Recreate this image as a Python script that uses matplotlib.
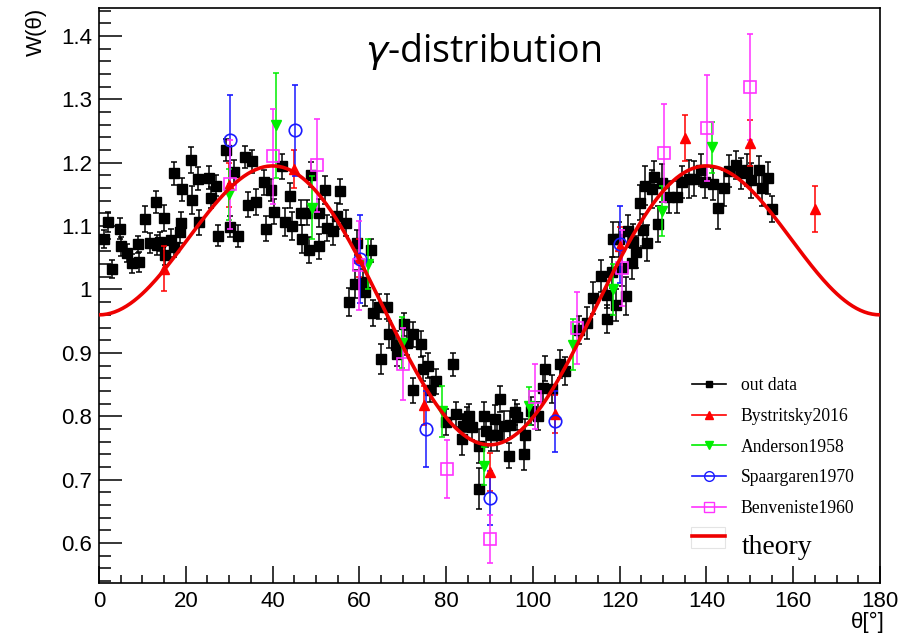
import numpy as np
import matplotlib
matplotlib.use('Agg')
import matplotlib.pyplot as plt
from matplotlib.lines import Line2D
from matplotlib.patches import Rectangle
from matplotlib.ticker import MultipleLocator, FuncFormatter

# "out data" points (theta in degrees, W, error)
theta_out = [
    1.2, 2.1, 3.1, 4.8, 5.0, 6.5, 7.5, 8.9, 9.2, 10.6,
    11.8, 13.2, 13.4, 14.0, 14.9, 15.1, 16.7, 17.2, 17.4, 18.6,
    18.9, 19.2, 21.2, 21.4, 22.9, 23.0, 25.4, 25.7, 26.9, 27.5,
    29.3, 30.1, 31.2, 32.0, 33.6, 34.4, 35.3, 36.1, 38.0, 38.6,
    39.6, 40.3, 42.1, 42.9, 44.1, 44.4, 46.6, 46.8, 47.9, 48.5,
    48.8, 50.6, 50.8, 52.1, 52.5, 54.0, 54.9, 55.5, 56.9, 57.7,
    59.1, 59.4, 60.9, 61.2, 62.8, 63.2, 64.6, 65.1, 66.4, 66.9,
    68.4, 68.7, 70.3, 70.9, 72.3, 72.4, 74.1, 74.6, 75.8, 76.3,
    77.7, 80.0, 81.7, 82.3, 83.7, 83.8, 84.7, 85.2, 86.0, 87.5,
    87.5, 88.7, 89.2, 90.3, 91.2, 91.8, 92.4, 93.3, 94.6, 94.7,
    95.9, 96.4, 97.9, 98.1, 99.5, 101.2, 102.4, 102.9, 104.4, 106.2,
    107.5, 110.6, 112.5, 113.8, 115.8, 117.0, 117.1, 118.2, 118.5, 119.2,
    119.8, 120.5, 121.5, 121.9, 122.8, 123.1, 123.8, 124.7, 125.3, 125.9,
    126.4, 127.4, 127.8, 128.8, 129.8, 131.4, 133.3, 134.4, 136.0, 137.1,
    138.8, 139.7, 141.4, 142.7, 144.0, 145.3, 146.8, 147.9, 149.3, 150.3,
    152.0, 152.8, 154.3, 155.1,
]
w_out = [
    1.080, 1.106, 1.032, 1.096, 1.068, 1.058, 1.041, 1.071, 1.043, 1.111,
    1.073, 1.138, 1.070, 1.075, 1.113, 1.055, 1.078, 1.183, 1.067, 1.090,
    1.105, 1.158, 1.204, 1.141, 1.175, 1.106, 1.176, 1.145, 1.164, 1.085,
    1.220, 1.099, 1.185, 1.084, 1.209, 1.134, 1.202, 1.138, 1.169, 1.096,
    1.157, 1.123, 1.194, 1.106, 1.148, 1.100, 1.121, 1.079, 1.121, 1.062,
    1.181, 1.068, 1.121, 1.157, 1.097, 1.092, 1.116, 1.155, 1.105, 0.980,
    1.009, 1.074, 1.012, 0.996, 1.062, 0.963, 0.973, 0.890, 0.973, 0.929,
    0.912, 0.899, 0.945, 0.916, 0.929, 0.841, 0.914, 0.875, 0.880, 0.842,
    0.855, 0.791, 0.882, 0.803, 0.764, 0.784, 0.795, 0.800, 0.783, 0.753,
    0.686, 0.800, 0.777, 0.771, 0.796, 0.771, 0.827, 0.784, 0.738, 0.787,
    0.806, 0.799, 0.741, 0.770, 0.808, 0.801, 0.845, 0.875, 0.843, 0.882,
    0.871, 0.936, 0.947, 0.987, 1.021, 0.992, 0.953, 1.027, 1.079, 0.975,
    1.079, 1.034, 0.989, 1.092, 1.041, 1.075, 1.059, 1.137, 1.094, 1.164,
    1.073, 1.159, 1.178, 1.103, 1.168, 1.146, 1.146, 1.169, 1.175, 1.175,
    1.189, 1.169, 1.166, 1.129, 1.160, 1.187, 1.196, 1.183, 1.188, 1.172,
    1.188, 1.160, 1.176, 1.127,
]
err_out = [
    0.014, 0.016, 0.014, 0.016, 0.015, 0.014, 0.015, 0.014, 0.016, 0.020,
    0.016, 0.018, 0.016, 0.015, 0.020, 0.016, 0.017, 0.018, 0.016, 0.017,
    0.018, 0.018, 0.020, 0.022, 0.018, 0.020, 0.018, 0.017, 0.017, 0.017,
    0.018, 0.017, 0.020, 0.017, 0.018, 0.020, 0.018, 0.020, 0.020, 0.020,
    0.017, 0.020, 0.020, 0.022, 0.020, 0.022, 0.020, 0.022, 0.020, 0.020,
    0.020, 0.020, 0.022, 0.022, 0.020, 0.022, 0.020, 0.020, 0.020, 0.022,
    0.022, 0.020, 0.020, 0.022, 0.018, 0.020, 0.020, 0.024, 0.020, 0.022,
    0.022, 0.020, 0.018, 0.020, 0.020, 0.020, 0.020, 0.020, 0.020, 0.020,
    0.020, 0.020, 0.018, 0.020, 0.025, 0.020, 0.020, 0.020, 0.020, 0.027,
    0.033, 0.022, 0.025, 0.025, 0.022, 0.025, 0.020, 0.025, 0.020, 0.022,
    0.020, 0.020, 0.025, 0.025, 0.022, 0.022, 0.022, 0.020, 0.022, 0.022,
    0.022, 0.022, 0.025, 0.025, 0.025, 0.022, 0.022, 0.025, 0.028, 0.025,
    0.028, 0.028, 0.030, 0.025, 0.025, 0.028, 0.025, 0.028, 0.025, 0.030,
    0.028, 0.030, 0.025, 0.028, 0.030, 0.025, 0.025, 0.025, 0.030, 0.028,
    0.025, 0.025, 0.025, 0.034, 0.028, 0.025, 0.022, 0.025, 0.025, 0.028,
    0.022, 0.028, 0.025, 0.020,
]

# Bystritsky2016
theta_bys = [15, 30, 45, 60, 75, 90, 105, 120, 135, 150, 165]
w_bys = [1.033, 1.165, 1.190, 1.050, 0.817, 0.712, 0.803, 1.068, 1.239, 1.231, 1.127]
err_bys = [0.036, 0.035, 0.030, 0.030, 0.030, 0.030, 0.030, 0.030, 0.037, 0.037, 0.037]

# Anderson1958
theta_and = [30.0, 40.9, 49.2, 62.0, 69.8, 79.0, 88.8, 99.2, 109.2, 118.4, 129.8, 141.2]
w_and = [1.150, 1.259, 1.129, 1.040, 0.916, 0.808, 0.722, 0.816, 0.913, 1.000, 1.124, 1.224]
err_and = [0.040, 0.083, 0.050, 0.040, 0.040, 0.040, 0.030, 0.030, 0.040, 0.040, 0.040, 0.040]

# Spaargaren1970
theta_spa = [30.2, 45.2, 60.2, 75.3, 90.1, 105.1, 120.1]
w_spa = [1.236, 1.251, 1.048, 0.780, 0.671, 0.792, 1.071]
err_spa = [0.070, 0.072, 0.070, 0.060, 0.042, 0.048, 0.060]

# Benveniste1960
theta_ben = [30.2, 40.2, 50.2, 60.0, 70.1, 80.1, 90.0, 100.5, 110.1, 120.5, 130.2, 140.2, 150.0]
w_ben = [1.166, 1.210, 1.196, 1.038, 0.882, 0.717, 0.607, 0.831, 0.939, 1.034, 1.215, 1.255, 1.319]
err_ben = [0.070, 0.075, 0.073, 0.070, 0.057, 0.046, 0.038, 0.051, 0.057, 0.060, 0.077, 0.084, 0.084]

# theory: W = a0 + a2 cos^2 + a4 cos^4 + a6 cos^6
theory_coef = [0.755, 1.4655, -1.1622, -0.0983]

fig = plt.figure(figsize=(9.13, 6.38), dpi=100)
ax = fig.add_axes([99 / 913, 1 - 583 / 638, 781 / 913, 575 / 638])

ebkw = dict(capsize=2.2, elinewidth=1.1, capthick=1.1, linestyle='none')
ax.errorbar(theta_out, w_out, yerr=err_out, fmt='s', color='black', ms=6.8, zorder=3, **ebkw)
ax.errorbar(theta_bys, w_bys, yerr=err_bys, fmt='^', color='#ff0000', ms=7, zorder=4, **ebkw)
ax.errorbar(theta_and, w_and, yerr=err_and, fmt='v', color='#00ee00', ms=7, zorder=4, **ebkw)
ax.errorbar(theta_spa, w_spa, yerr=err_spa, fmt='o', color='#1a1aff', mfc='none', ms=9,
            mew=1.2, zorder=4, **ebkw)
ax.errorbar(theta_ben, w_ben, yerr=err_ben, fmt='s', color='#ff33ff', mfc='none', ms=9,
            mew=1.2, zorder=4, **ebkw)

th = np.linspace(0, 180, 400)
c2 = np.cos(np.radians(th)) ** 2
w_th = sum(a * c2 ** k for k, a in enumerate(theory_coef))
ax.plot(th, w_th, color='#ee0000', lw=2.6, zorder=5)

ax.set_xlim(0, 180)
ax.set_ylim(0.537, 1.444)
ax.xaxis.set_major_locator(MultipleLocator(20))
ax.xaxis.set_minor_locator(MultipleLocator(5))
ax.yaxis.set_major_locator(MultipleLocator(0.1))
ax.yaxis.set_minor_locator(MultipleLocator(0.02))
ax.yaxis.set_major_formatter(FuncFormatter(lambda v, p: '%g' % round(v, 2)))
ax.tick_params(axis='both', which='both', direction='in', top=False, right=False,
               labelsize=16, width=1.1)
ax.tick_params(axis='x', which='major', length=12.5, pad=6)
ax.tick_params(axis='x', which='minor', length=6)
ax.tick_params(axis='y', which='major', length=16.5, pad=5)
ax.tick_params(axis='y', which='minor', length=8.4)
for lab in ax.get_xticklabels() + ax.get_yticklabels():
    lab.set_family('Liberation Sans')
for s in ax.spines.values():
    s.set_linewidth(1.2)

fig.text(483 / 913, 1 - 52 / 638, r'$\gamma$-distribution', fontsize=27, family='Open Sans',
         ha='center', va='center')
fig.text(36 / 913, 1 - 32 / 638, 'W(θ)', rotation=90, fontsize=16, family='Liberation Sans',
         ha='center', va='center')
fig.text(868 / 913, 1 - 622 / 638, 'θ[°]', fontsize=16, family='Liberation Sans',
         ha='center', va='center')

handles = [
    Line2D([], [], color='black', marker='s', ms=5, lw=1.2),
    Line2D([], [], color='#ff0000', marker='^', ms=6, lw=1.2),
    Line2D([], [], color='#00ee00', marker='v', ms=6, lw=1.2),
    Line2D([], [], color='#1a1aff', marker='o', mfc='none', ms=7, lw=1.2),
    Line2D([], [], color='#ff33ff', marker='s', mfc='none', ms=7, lw=1.2),
]
labels = ['out data', 'Bystritsky2016', 'Anderson1958', 'Spaargaren1970', 'Benveniste1960']
leg = ax.legend(handles, labels, loc='upper left', bbox_to_anchor=(692 / 913, 1 - 377 / 638),
                bbox_transform=fig.transFigure, frameon=False, borderpad=0, borderaxespad=0,
                handlelength=1.9, handletextpad=0.85, labelspacing=0.78,
                prop={'family': 'Liberation Serif', 'size': 12.7})

# "theory" legend entry: red line in a faint box, larger label below-right
fig.add_artist(Rectangle((691 / 913, 1 - 548 / 638), 34 / 913, 21 / 638,
                         transform=fig.transFigure, fill=False, ec='#e4e4e4', lw=0.8))
fig.add_artist(Line2D([692 / 913, 725 / 913], [1 - 536 / 638, 1 - 536 / 638],
                      transform=fig.transFigure, color='#ee0000', lw=2.6))
fig.text(742 / 913, 1 - 548 / 638, 'theory', fontsize=20, family='Liberation Serif',
         ha='left', va='center')

fig.savefig('out.png', dpi=100)
